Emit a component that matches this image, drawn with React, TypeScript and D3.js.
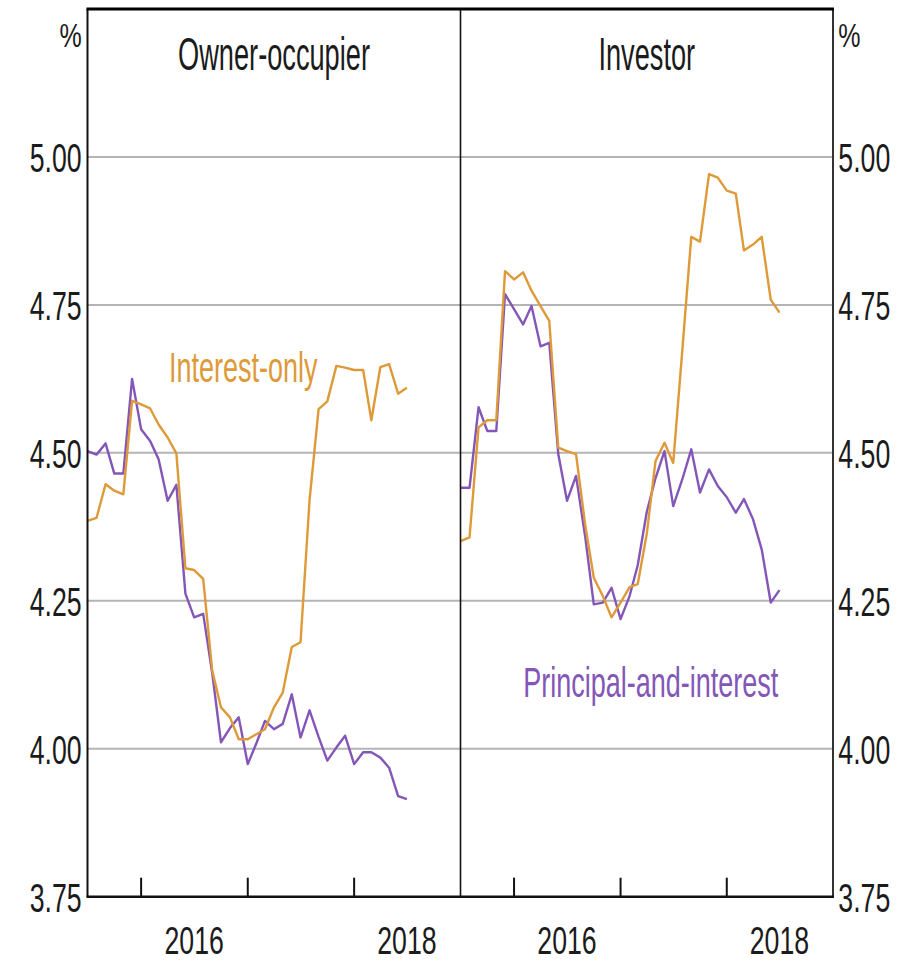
import React from "react";
import * as d3 from "d3";

// ---- data (monthly, Jul 2015 – Jul 2018) ----
const months = [
  "2015-07","2015-08","2015-09","2015-10","2015-11","2015-12",
  "2016-01","2016-02","2016-03","2016-04","2016-05","2016-06",
  "2016-07","2016-08","2016-09","2016-10","2016-11","2016-12",
  "2017-01","2017-02","2017-03","2017-04","2017-05","2017-06",
  "2017-07","2017-08","2017-09","2017-10","2017-11","2017-12",
  "2018-01","2018-02","2018-03","2018-04","2018-05","2018-06",
  "2018-07",
];

const ownerInterestOnly = [
  4.385, 4.39, 4.447, 4.436, 4.43, 4.588, 4.582, 4.575, 4.548, 4.526, 4.499, 4.305,
  4.302, 4.287, 4.132, 4.07, 4.053, 4.016, 4.016, 4.025, 4.033, 4.07, 4.095, 4.172,
  4.18, 4.42, 4.574, 4.587, 4.647, 4.644, 4.64, 4.64, 4.555, 4.645, 4.65, 4.6, 4.61,
];
const ownerPrincipal = [
  4.503, 4.497, 4.516, 4.465, 4.465, 4.625, 4.54, 4.52, 4.489, 4.419, 4.446, 4.262,
  4.222, 4.228, 4.128, 4.011, 4.035, 4.053, 3.974, 4.011, 4.047, 4.033, 4.042, 4.092,
  4.019, 4.065, 4.02, 3.98, 4.002, 4.022, 3.974, 3.994, 3.994, 3.985, 3.968, 3.92, 3.915,
];
const investorInterestOnly = [
  4.351, 4.357, 4.543, 4.555, 4.555, 4.807, 4.793, 4.805, 4.774, 4.748, 4.723, 4.509,
  4.503, 4.498, 4.38, 4.289, 4.258, 4.222, 4.247, 4.273, 4.278, 4.363, 4.486, 4.517,
  4.483, 4.672, 4.865, 4.857, 4.971, 4.965, 4.943, 4.938, 4.842, 4.852, 4.865, 4.759, 4.737,
];
const investorPrincipal = [
  4.441, 4.441, 4.577, 4.537, 4.537, 4.768, 4.743, 4.717, 4.748, 4.68, 4.686, 4.498,
  4.419, 4.461, 4.36, 4.244, 4.247, 4.272, 4.219, 4.258, 4.31, 4.4, 4.457, 4.503,
  4.41, 4.455, 4.506, 4.433, 4.472, 4.444, 4.425, 4.399, 4.422, 4.388, 4.337, 4.247, 4.268,
];

const panelTitles = ["Owner-occupier", "Investor"];
const yTicks = [3.75, 4.0, 4.25, 4.5, 4.75, 5.0];
const gridValues = [4.0, 4.25, 4.5, 4.75, 5.0];
const yearTicks = ["2016-01", "2017-01", "2018-01"];
const yearLabels = ["2016", "2018"];
const seriesLabels = ["Interest-only", "Principal-and-interest"];

// ---- styles ----
const W = 921;
const H = 962;
const ORANGE = "#de9a38";
const PURPLE = "#8356b8";
const FONT = "'Liberation Sans', Arial, Helvetica, sans-serif";
const TEXT = "#1b1b1b";

const parse = d3.timeParse("%Y-%m");
const dates = months.map((m) => parse(m) as Date);

export default function App() {
  const yScale = d3.scaleLinear().domain([3.75, 5.25]).range([896.7, 9]);
  const panels = [
    { x0: 87.5, x1: 460.5, io: ownerInterestOnly, pi: ownerPrincipal, title: panelTitles[0] },
    { x0: 460.5, x1: 833, io: investorInterestOnly, pi: investorPrincipal, title: panelTitles[1] },
  ];
  const domain = [new Date(2015, 6, 1), new Date(2019, 0, 1)];

  const tickText = (x: number, y: number, s: string, anchor: string, key: string, sy = 1.54) => (
    <text
      key={key}
      transform={`translate(${x},${y}) scale(1,${sy})`}
      fontSize={26.7}
      fontFamily={FONT}
      fill={TEXT}
      textAnchor={anchor as any}
    >
      {s}
    </text>
  );

  return (
    <svg
      width={W}
      height={H}
      viewBox={`0 0 ${W} ${H}`}
      style={{ position: "absolute", left: 0, top: 0, background: "#fff" }}
    >
      <rect x={0} y={0} width={W} height={H} fill="#fff" />
      {panels.map((p, pi) => {
        const x = d3.scaleTime().domain(domain).range([p.x0, p.x1]);
        const line = d3
          .line<number>()
          .x((_, i) => x(dates[i]))
          .y((v) => yScale(v));
        return (
          <g key={pi}>
            {gridValues.map((g) => (
              <line
                key={g}
                x1={p.x0}
                x2={p.x1}
                y1={yScale(g)}
                y2={yScale(g)}
                stroke="#b4b4b4"
                strokeWidth={2}
              />
            ))}
            {yearTicks.map((t) => {
              const tx = x(parse(t) as Date);
              return (
                <line
                  key={t}
                  x1={tx}
                  x2={tx}
                  y1={yScale(3.75)}
                  y2={yScale(3.75) - 19}
                  stroke="#111"
                  strokeWidth={2}
                />
              );
            })}
            <path d={line(p.pi) || ""} fill="none" stroke={PURPLE} strokeWidth={2.4} strokeLinejoin="round" />
            <path d={line(p.io) || ""} fill="none" stroke={ORANGE} strokeWidth={2.4} strokeLinejoin="round" />
            <text
              transform={`translate(${(p.x0 + p.x1) / 2},70) scale(1,1.72)`}
              fontSize={27.2}
              fontFamily={FONT}
              fill={TEXT}
              textAnchor="middle"
            >
              {p.title}
            </text>
            {yearLabels.map((yl) => {
              const cx = x(new Date(+yl, 6, 1));
              return tickText(cx, 953.5, yl, "middle", "yl" + yl, 1.45);
            })}
          </g>
        );
      })}

      {/* frame */}
      <line x1={87.5} x2={87.5} y1={9} y2={896.7} stroke="#111" strokeWidth={2} />
      <line x1={833} x2={833} y1={9} y2={896.7} stroke="#333" strokeWidth={2} />
      <line x1={460.5} x2={460.5} y1={9} y2={896.7} stroke="#111" strokeWidth={1.6} />
      <line x1={86.5} x2={834} y1={9} y2={9} stroke="#000" strokeWidth={3} />
      <line x1={86.5} x2={834} y1={896.7} y2={896.7} stroke="#111" strokeWidth={2.6} />

      {/* y-axis labels */}
      {yTicks.map((t) => tickText(81.7, yScale(t) + 15.5, t.toFixed(2), "end", "l" + t))}
      {yTicks.map((t) => tickText(838.3, yScale(t) + 15.5, t.toFixed(2), "start", "r" + t))}
      <text transform="translate(81.7,47) scale(1,1.35)" fontSize={25} fontFamily={FONT} fill={TEXT} textAnchor="end">
        %
      </text>
      <text transform="translate(838.3,47) scale(1,1.35)" fontSize={25} fontFamily={FONT} fill={TEXT} textAnchor="start">
        %
      </text>

      {/* series labels */}
      <text
        transform="translate(243.3,382) scale(1,1.6)"
        fontSize={27}
        fontFamily={FONT}
        fill={ORANGE}
        textAnchor="middle"
      >
        {seriesLabels[0]}
      </text>
      <text
        transform="translate(650.8,697) scale(1,1.6)"
        fontSize={27}
        fontFamily={FONT}
        fill={PURPLE}
        textAnchor="middle"
      >
        {seriesLabels[1]}
      </text>
    </svg>
  );
}
